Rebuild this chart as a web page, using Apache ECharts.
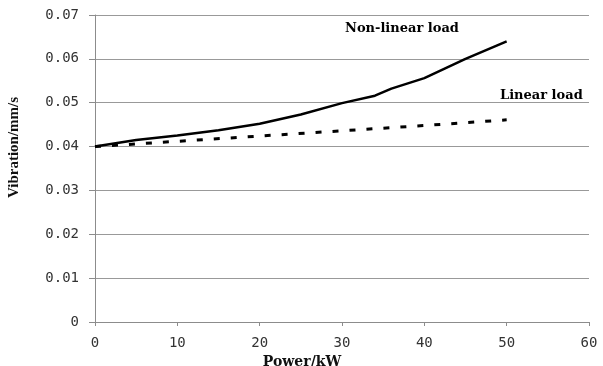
<!DOCTYPE html>
<html>
<head>
<meta charset="utf-8">
<script src="https://cdn.jsdelivr.net/npm/echarts@6/dist/echarts.min.js"></script>
<style>
    html, body { margin: 0; padding: 0; background: #fff; }
    #chart { width: 603px; height: 366px; }
</style>
</head>
<body>
<div id="chart"></div>
<script>
// power in kW
const powerNonLinear = [0, 5, 10, 15, 20, 25, 30, 34, 36, 40, 45, 50];
const vibNonLinear = [0.040, 0.0415, 0.0425, 0.0437, 0.0452, 0.0473, 0.0499, 0.0516, 0.0532, 0.0556, 0.0600, 0.0640];

const powerLinear = [0, 10, 20, 30, 40, 50];
const vibLinear = [0.040, 0.0412, 0.0424, 0.0436, 0.0448, 0.0461];

const seriesNames = ['Non-linear load', 'Linear load'];

const chartDom = document.getElementById('chart');
const myChart = echarts.init(chartDom);

const serif = '"Liberation Serif", "DejaVu Serif", serif';
const wideSerif = '"DejaVu Serif", serif';
const tickFont = '"DejaVu Sans Mono", monospace';

const option = {
    backgroundColor: '#fff',
    animation: false,
    grid: {
        left: 95,
        right: 14,
        top: 15,
        bottom: 44,
        outerBoundsMode: 'none'
    },
    xAxis: {
        type: 'value',
        min: 0,
        max: 60,
        interval: 10,
        name: 'Power/kW',
        nameLocation: 'middle',
        nameGap: 29,
        nameTextStyle: {
            fontFamily: wideSerif,
            fontWeight: 'bold',
            fontSize: 14,
            color: '#111',
            padding: [0, 80, 0, 0]
        },
        axisLine: { lineStyle: { color: '#8c8c8c', width: 1 } },
        axisTick: { show: true, length: 4, lineStyle: { color: '#8c8c8c' } },
        axisLabel: { fontFamily: tickFont, fontSize: 14, color: '#333', margin: 14 },
        splitLine: { show: false }
    },
    yAxis: {
        type: 'value',
        min: 0,
        max: 0.07,
        interval: 0.01,
        name: 'Vibration/mm/s',
        nameLocation: 'middle',
        nameGap: 73,
        nameTextStyle: {
            fontFamily: serif,
            fontWeight: 'bold',
            fontSize: 15,
            color: '#111',
            padding: [0, 0, 0, 42]
        },
        axisLine: { show: true, lineStyle: { color: '#8c8c8c', width: 1 } },
        axisTick: { show: true, length: 6, lineStyle: { color: '#8c8c8c' } },
        axisLabel: {
            fontFamily: tickFont,
            fontSize: 14,
            color: '#333',
            margin: 16,
            formatter: (v) => v === 0 ? '0' : v.toFixed(2)
        },
        splitLine: { show: true, lineStyle: { color: '#999', width: 1 } }
    },
    series: [
        {
            name: seriesNames[0],
            type: 'line',
            data: powerNonLinear.map((p, i) => [p, vibNonLinear[i]]),
            showSymbol: false,
            lineStyle: { color: '#000', width: 2.5 }
        },
        {
            name: seriesNames[1],
            type: 'line',
            data: powerLinear.map((p, i) => [p, vibLinear[i]]),
            showSymbol: false,
            lineStyle: { color: '#000', width: 3, type: [6, 11] }
        }
    ],
    graphic: [
        {
            type: 'text',
            left: 345,
            top: 22,
            style: {
                text: seriesNames[0],
                font: 'bold 13px ' + wideSerif,
                fill: '#000'
            }
        },
        {
            type: 'text',
            left: 500,
            top: 89,
            style: {
                text: seriesNames[1],
                font: 'bold 13px ' + wideSerif,
                fill: '#000'
            }
        }
    ]
};

myChart.setOption(option);
window.addEventListener('resize', () => myChart.resize());
</script>
</body>
</html>
